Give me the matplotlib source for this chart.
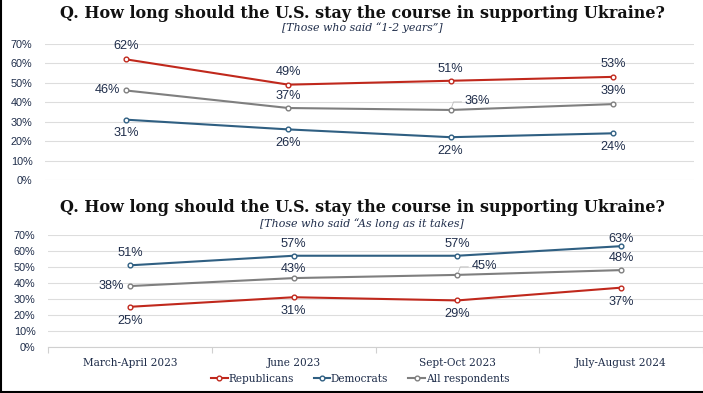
import matplotlib
matplotlib.use("Agg")
import matplotlib.pyplot as plt
from matplotlib.lines import Line2D
from matplotlib.ticker import MultipleLocator, FixedLocator

# data
waves = ["March-April 2023", "June 2023", "Sept-Oct 2023", "July-August 2024"]

top_rep = [62, 49, 51, 53]
top_dem = [31, 26, 22, 24]
top_all = [46, 37, 36, 39]

bot_rep = [25, 31, 29, 37]
bot_dem = [51, 57, 57, 63]
bot_all = [38, 43, 45, 48]

title = "Q. How long should the U.S. stay the course in supporting Ukraine?"
sub_top = "[Those who said \u201c1-2 years\u201d]"
sub_bot = "[Those who said \u201cAs long as it takes]"

RED = "#C0281C"
BLUE = "#2F5F82"
GREY = "#7F7F7F"
TXT = "#1F2D4A"
SANS = "Liberation Sans"
SERIF = "DejaVu Serif"

# label offsets in pixels (dx, dy), dy positive = up
top_off = {
    "rep": [(0, 13), (0, 13), (0, 12), (0, 13)],
    "dem": [(0, -13), (0, -14), (0, -14), (0, -14)],
    "all": [("L", 0), (0, 12), ("R", 9), (0, 13)],
}
bot_off = {
    "rep": [(0, -14), (0, -14), (0, -14), (0, -14)],
    "dem": [(0, 12.5), (0, 12), (0, 12), (0, 7.5)],
    "all": [("L", 0), (0, 9), ("R", 9), (0, 12)],
}

fig = plt.figure(figsize=(7.03, 3.93), dpi=100)
fig.patch.set_facecolor("white")

ax1 = fig.add_axes([45 / 703, 1 - 180 / 393, 649 / 703, 136.2 / 393])
ax2 = fig.add_axes([48 / 703, 1 - 346.7 / 393, 655 / 703, 111.7 / 393])


def draw(ax, rep, dem, all_, offs):
    x = list(range(len(waves)))
    series = [("all", all_, GREY, "All respondents"),
              ("dem", dem, BLUE, "Democrats"),
              ("rep", rep, RED, "Republicans")]
    for key, vals, col, lab in series:
        ax.plot(x, vals, color=col, lw=1.5, marker="o", ms=3.4,
                mfc="white", mec=col, mew=1.0, label=lab, clip_on=False, zorder=3)
        for i, v in enumerate(vals):
            dx, dy = offs[key][i]
            if dx == "L":
                ax.annotate(f"{v}%", (i, v), xytext=(-6, 0), textcoords="offset pixels",
                            ha="right", va="center", fontsize=9.2, color=TXT, family=SANS)
            elif dx == "R":
                ax.annotate(f"{v}%", (i, v), xytext=(14, dy), textcoords="offset pixels",
                            ha="left", va="center", fontsize=9.2, color=TXT, family=SANS)
                ax.annotate("", (i, v), xytext=(11, dy - 1), textcoords="offset pixels",
                            arrowprops=dict(arrowstyle="-", color="#BBBBBB", lw=0.6,
                                            shrinkA=0, shrinkB=2,
                                            connectionstyle="angle,angleA=0,angleB=70,rad=0"))
            else:
                ax.annotate(f"{v}%", (i, v), xytext=(dx, dy), textcoords="offset pixels",
                            ha="center", va="center", fontsize=9.2, color=TXT, family=SANS)
    ax.set_xlim(-0.5, len(waves) - 0.5)
    ax.set_ylim(0, 70)
    ax.yaxis.set_major_locator(MultipleLocator(10))
    ax.yaxis.set_major_formatter(plt.FuncFormatter(lambda v, p: f"{int(v)}%"))
    ax.grid(axis="y", color="#DDDDDD", lw=0.8)
    ax.set_axisbelow(True)
    for s in ax.spines.values():
        s.set_visible(False)
    ax.tick_params(axis="y", length=0, pad=9, labelsize=7.8, labelcolor=TXT)
    for t in ax.get_yticklabels():
        t.set_family(SANS)


draw(ax1, top_rep, top_dem, top_all, top_off)
ax1.set_xticks([])

draw(ax2, bot_rep, bot_dem, bot_all, bot_off)
ax2.set_xticks(range(len(waves)))
ax2.set_xticklabels(waves, family=SERIF, fontsize=7.6, color=TXT)
ax2.xaxis.set_minor_locator(FixedLocator([-0.5, 0.5, 1.5, 2.5, 3.5]))
ax2.tick_params(axis="x", which="major", length=0, pad=8)
ax2.tick_params(axis="x", which="minor", length=4, color="#D0D0D0", width=0.8)
ax2.spines["bottom"].set_visible(True)
ax2.spines["bottom"].set_color("#D0D0D0")
ax2.spines["bottom"].set_linewidth(0.8)

# titles
fig.text(362 / 703, 1 - 13 / 393, title, ha="center", va="center",
         family=SERIF, fontweight="bold", fontsize=11.5, color="#111111")
fig.text(362 / 703, 1 - 28 / 393, sub_top, ha="center", va="center",
         family=SERIF, style="italic", fontsize=7.9, color=TXT)
fig.text(362 / 703, 1 - 208 / 393, title, ha="center", va="center",
         family=SERIF, fontweight="bold", fontsize=11.5, color="#111111")
fig.text(362 / 703, 1 - 224 / 393, sub_bot, ha="center", va="center",
         family=SERIF, style="italic", fontsize=7.9, color=TXT)

# legend
h, l = ax2.get_legend_handles_labels()
order = [2, 1, 0]
fig.legend([h[i] for i in order], [l[i] for i in order], loc="center",
           bbox_to_anchor=(360 / 703, 1 - 379 / 393), ncol=3, frameon=False,
           prop={"family": SERIF, "size": 7.6}, labelcolor=TXT,
           handlelength=1.6, handletextpad=0.05, columnspacing=1.9)

# frame lines on left and bottom
fig.add_artist(Line2D([0.5 / 703, 0.5 / 703], [0, 1], color="black", lw=1.5))
fig.add_artist(Line2D([0, 1], [1.5 / 393, 1.5 / 393], color="black", lw=1.5))

fig.savefig("out.png", dpi=100, facecolor="white")
